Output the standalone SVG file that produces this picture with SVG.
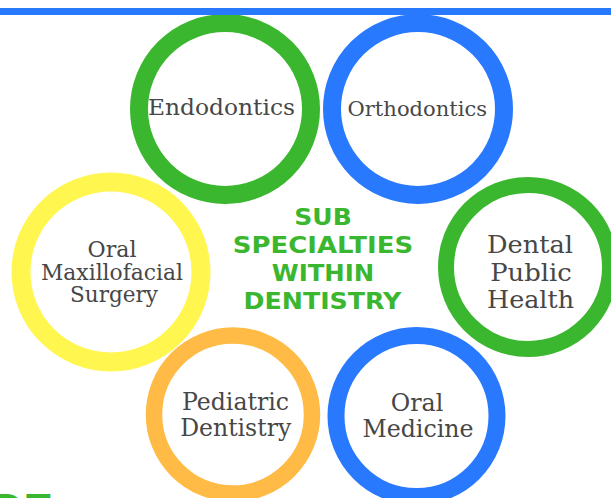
<svg xmlns="http://www.w3.org/2000/svg" width="611" height="498" viewBox="0 0 611 498">
<style>
.ring{fill:#ffffff}
.g{stroke:#3ab72e}
.b{stroke:#2979ff}
.y{stroke:#fff650}
.o{stroke:#ffbb45}
.lbl{font-family:"DejaVu Serif","Liberation Serif",serif;fill:#474747;text-anchor:middle}
.ttl{font-family:"DejaVu Sans","Liberation Sans",sans-serif;font-weight:bold;fill:#3ab72e;text-anchor:middle;font-size:23px}
</style>
<rect x="0" y="0" width="611" height="498" fill="#ffffff"/>
<g id="connectors"/>
<g id="endodontics">
<circle class="ring g" cx="225" cy="109" r="86" stroke-width="18"/>
<text class="lbl" x="221.5" y="115" font-size="23" textLength="147" lengthAdjust="spacingAndGlyphs">Endodontics</text>
</g>
<g id="orthodontics">
<circle class="ring b" cx="418" cy="109" r="86" stroke-width="18"/>
<text class="lbl" x="417.3" y="116" font-size="20" textLength="139.5" lengthAdjust="spacingAndGlyphs">Orthodontics</text>
</g>
<g id="oral-maxillofacial-surgery">
<circle class="ring y" cx="111" cy="272" r="90" stroke-width="19"/>
<text class="lbl" x="112" y="257" font-size="22" textLength="49" lengthAdjust="spacingAndGlyphs">Oral</text>
<text class="lbl" x="112" y="279.5" font-size="22" textLength="142" lengthAdjust="spacingAndGlyphs">Maxillofacial</text>
<text class="lbl" x="114" y="302" font-size="22" textLength="88" lengthAdjust="spacingAndGlyphs">Surgery</text>
</g>
<g id="dental-public-health">
<circle class="ring g" cx="528" cy="267" r="82" stroke-width="16"/>
<text class="lbl" x="530" y="252.7" font-size="25" textLength="86" lengthAdjust="spacingAndGlyphs">Dental</text>
<text class="lbl" x="531" y="280.7" font-size="25" textLength="81.7" lengthAdjust="spacingAndGlyphs">Public</text>
<text class="lbl" x="530.5" y="308.3" font-size="25" textLength="87" lengthAdjust="spacingAndGlyphs">Health</text>
</g>
<g id="pediatric-dentistry">
<circle class="ring o" cx="233" cy="414.5" r="79" stroke-width="16.5"/>
<text class="lbl" x="235.5" y="410" font-size="24" textLength="107" lengthAdjust="spacingAndGlyphs">Pediatric</text>
<text class="lbl" x="235.7" y="436" font-size="24" textLength="111" lengthAdjust="spacingAndGlyphs">Dentistry</text>
</g>
<g id="oral-medicine">
<circle class="ring b" cx="416.5" cy="416" r="80.5" stroke-width="17"/>
<text class="lbl" x="417" y="410.7" font-size="24" textLength="52.5" lengthAdjust="spacingAndGlyphs">Oral</text>
<text class="lbl" x="418" y="436.7" font-size="24" textLength="111" lengthAdjust="spacingAndGlyphs">Medicine</text>
</g>
<g id="title">
<text class="ttl" x="323" y="225" textLength="57.5" lengthAdjust="spacingAndGlyphs">SUB</text>
<text class="ttl" x="323" y="253.3" textLength="180.3" lengthAdjust="spacingAndGlyphs">SPECIALTIES</text>
<text class="ttl" x="323" y="281" textLength="102.4" lengthAdjust="spacingAndGlyphs">WITHIN</text>
<text class="ttl" x="322.5" y="309.3" textLength="157.8" lengthAdjust="spacingAndGlyphs">DENTISTRY</text>
</g>
<text x="-8.3" y="525" font-family="'Liberation Sans',Arial,sans-serif" font-weight="bold" font-size="44" fill="#3ab72e">DE</text>
<rect x="0" y="8" width="611" height="7" fill="#2979ff"/>
</svg>
